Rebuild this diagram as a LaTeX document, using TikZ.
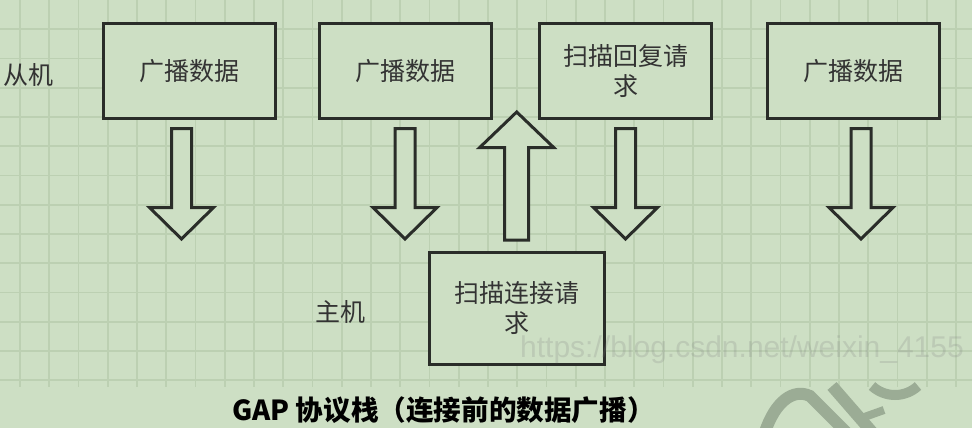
\documentclass[tikz,border=0pt]{standalone}
\usepackage{fontspec}
\newfontfamily\cjk{Noto Sans CJK SC}
\newfontfamily\wmfont{Liberation Sans}
\definecolor{bgc}{HTML}{CDDFC4}
\definecolor{gridc}{HTML}{BCD0B2}
\definecolor{edgec}{HTML}{2A2D29}
\definecolor{txtc}{HTML}{333333}
\definecolor{wmc}{HTML}{9BAC95}
\tikzset{
  gridline/.style={draw=gridc, line width=1.6pt},
  stagebox/.style={draw=edgec, line width=3pt, fill=bgc, minimum width=172pt, minimum height=95pt,
    inner sep=0pt, align=center, text=txtc, font=\cjk\fontsize{25}{30}\selectfont},
  sidelabel/.style={text=txtc, font=\cjk\fontsize{25}{30}\selectfont, inner sep=0pt},
  blockarrow/.style={draw=edgec, line width=3pt, fill=bgc, line join=miter},
  blockdown/.pic={\path[blockarrow] (-10,128.5) -- (10,128.5) -- (10,207.5) -- (32,207.5) -- (0,239) -- (-32,207.5) -- (-10,207.5) -- cycle;},
  wmstroke/.style={draw=wmc, line width=12pt, line cap=butt}
}
\begin{document}
\begin{tikzpicture}[x=1pt,y=-1pt]
  \fill[bgc] (0,0) rectangle (972,428);
  \useasboundingbox (0,0) rectangle (972,428);
  % grid
  \foreach \i in {0,...,32} \draw[gridline] (20+\i*29.25,0) -- (20+\i*29.25,387);
  \foreach \j in {1,...,13} \draw[gridline] (0,\j*29.25) -- (972,\j*29.25);
  % labels
  \node[sidelabel] (slave) at (29,75) {从机};
  \node[sidelabel] (master) at (340,312) {主机};
  % boxes
  \node[stagebox] (b1) at (189.5,71) {广播数据};
  \node[stagebox] (b2) at (405.5,71) {广播数据};
  \node[stagebox] (b3) at (625.5,71) {扫描回复请\\求};
  \node[stagebox] (b4) at (853.7,71) {广播数据};
  \node[stagebox, minimum width=175pt, minimum height=112pt] (b5) at (516.7,308.5) {扫描连接请\\求};
  % block arrows
  \pic at (181.5,0) {blockdown};
  \pic at (405,0) {blockdown};
  \pic at (625.5,0) {blockdown};
  \pic at (861,0) {blockdown};
  \path[blockarrow] (516.7-12,240) -- (516.7+12,240) -- (516.7+12,147.5) -- (516.7+37,147.5)
    -- (516.7,112) -- (516.7-37,147.5) -- (516.7-12,147.5) -- cycle;
  % caption
  \node[inner sep=0pt, text=black, font=\cjk\bfseries\fontsize{27.6}{30}\selectfont] (cap) at (443.5,410) {GAP 协议栈（连接前的数据广播）};
  % watermark
  \begin{scope}
    \clip (0,0) rectangle (972,428);
    \node[anchor=west, inner sep=0pt, text=gray, opacity=0.22, font=\wmfont\fontsize{30}{30}\selectfont] (wm) at (520,350) {https://blog.csdn.net/weixin\_4155};
    \draw[wmstroke] (765,432) .. controls (775,402) and (793,388) .. (810,396) -- (846,432);
    \draw[wmstroke] (832,386) -- (872,432);
    \draw[wmstroke, line width=8pt] (856,420) -- (884,410);
    \draw[wmstroke, line width=10pt] (872,386) .. controls (885,398) and (905,398) .. (918,386);
  \end{scope}
\end{tikzpicture}
\end{document}
